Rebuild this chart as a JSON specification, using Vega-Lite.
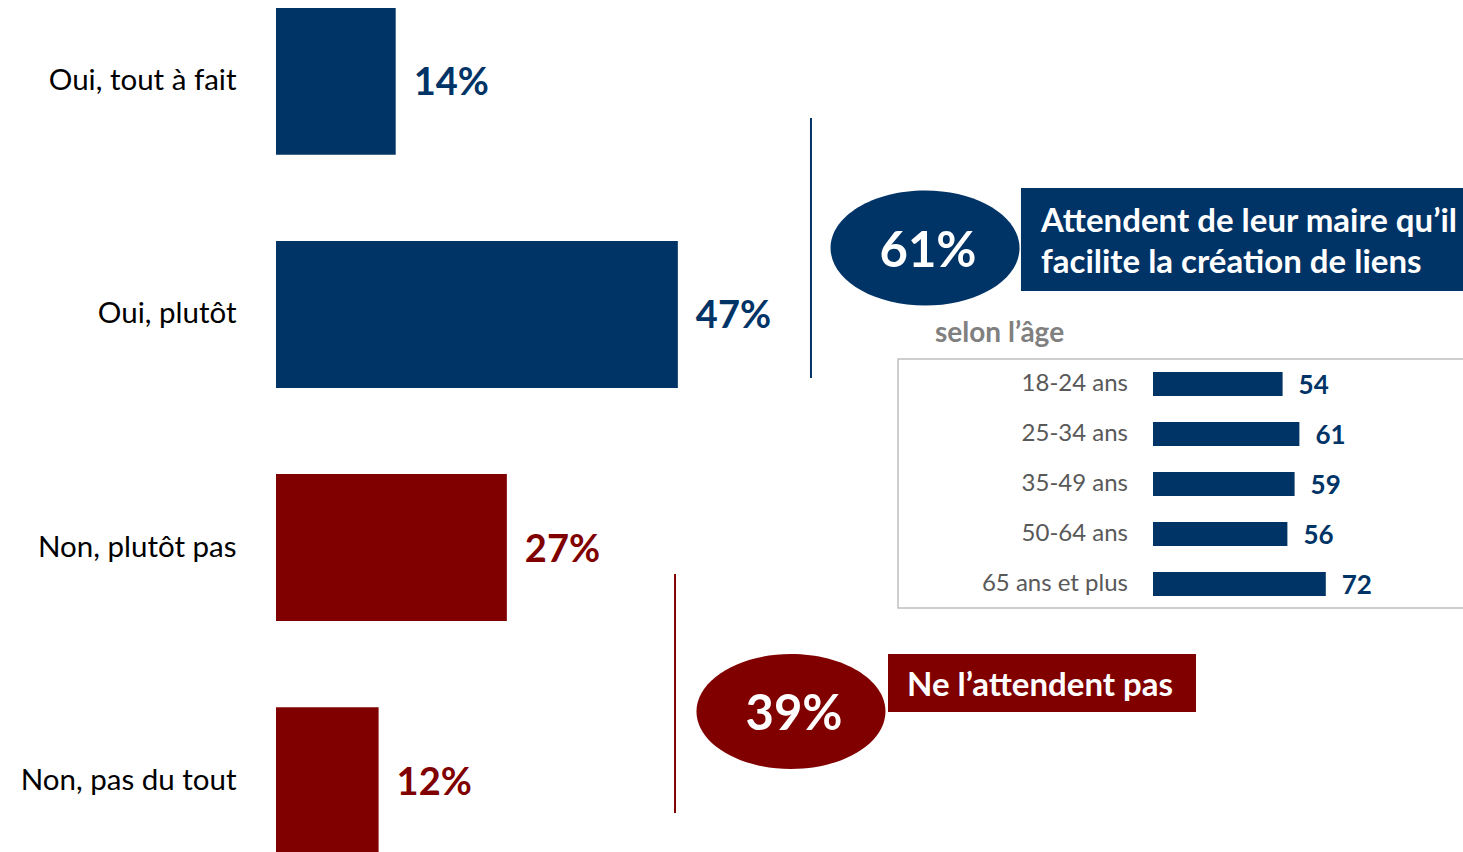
{
  "$schema": "https://vega.github.io/schema/vega-lite/v6.json",
  "width": 1187,
  "height": 852,
  "autosize": {"type": "none"},
  "padding": {"left": 276, "top": 0, "right": 0, "bottom": 0},
  "background": "white",
  "config": {"view": {"stroke": null}, "font": "Lato"},
  "datasets": {
    "reponses": [
      {"reponse": "Oui, tout à fait", "part": 0.14, "groupe": "Oui"},
      {"reponse": "Oui, plutôt", "part": 0.47, "groupe": "Oui"},
      {"reponse": "Non, plutôt pas", "part": 0.27, "groupe": "Non"},
      {"reponse": "Non, pas du tout", "part": 0.12, "groupe": "Non"}
    ],
    "ages": [
      {"age": "18-24 ans", "score": 54},
      {"age": "25-34 ans", "score": 61},
      {"age": "35-49 ans", "score": 59},
      {"age": "50-64 ans", "score": 56},
      {"age": "65 ans et plus", "score": 72}
    ],
    "accolades": [
      {"groupe": "Oui", "x": 0.6257, "y": 13.85, "y2": 44.37},
      {"groupe": "Non", "x": 0.4667, "y": 67.37, "y2": 95.42}
    ],
    "bulles": [
      {"groupe": "Oui", "x": 0.7591, "y": 29.11, "xt": 0.7626, "yt": 29.6, "total": "61%"},
      {"groupe": "Non", "x": 0.6023, "y": 83.51, "xt": 0.6058, "yt": 83.95, "total": "39%"}
    ],
    "bandeaux": [
      {"groupe": "Oui", "x": 0.8713, "x2": 1.408, "y": 22.07, "y2": 34.15, "xt": 0.8947, "yt": 26.06, "texte": "Attendent de leur maire qu’il\nfacilite la création de liens"},
      {"groupe": "Non", "x": 0.7158, "x2": 1.076, "y": 76.76, "y2": 83.57, "xt": 0.738, "yt": 80.5, "texte": "Ne l’attendent pas"}
    ],
    "encart": [
      {"x": 0.7275, "x2": 1.408, "y": 42.14, "y2": 71.36, "xt": 0.7708, "yt": 39.2, "titre": "selon l’âge"}
    ]
  },
  "layer": [
    {
      "data": {"name": "reponses"},
      "encoding": {
        "y": {
          "field": "reponse", "type": "nominal", "sort": null,
          "scale": {"range": [0, 862], "paddingInner": 0.37, "paddingOuter": 0.0343},
          "axis": {"title": null, "domain": false, "ticks": false, "labelPadding": 40, "labelFontSize": 29.5, "labelColor": "#000000", "labelFont": "Lato", "labelLimit": 400}
        },
        "x": {"field": "part", "type": "quantitative", "scale": {"domain": [0, 1.3883], "nice": false}, "axis": null},
        "color": {"field": "groupe", "type": "nominal", "scale": {"domain": ["Oui", "Non"], "range": ["#003366", "#800000"]}, "legend": null}
      },
      "layer": [
        {"mark": {"type": "bar", "opacity": 1}},
        {"mark": {"type": "text", "align": "left", "baseline": "middle", "dx": 18, "dy": 3, "fontSize": 38, "fontWeight": "bold", "font": "Lato"},
         "encoding": {"text": {"field": "part", "type": "quantitative", "format": ".0%"}}}
      ]
    },
    {
      "layer": [
        {
          "data": {"name": "accolades"},
          "mark": {"type": "rule", "strokeWidth": 2},
          "encoding": {
            "x": {"field": "x", "type": "quantitative"},
            "y": {"field": "y", "type": "quantitative"},
            "y2": {"field": "y2"},
            "color": {"field": "groupe", "type": "nominal", "scale": {"domain": ["Oui", "Non"], "range": ["#003366", "#800000"]}, "legend": null}
          }
        },
        {
          "data": {"name": "encart"},
          "mark": {"type": "rect", "fill": null, "fillOpacity": 0, "stroke": "#bfbfbf", "strokeWidth": 1.5},
          "encoding": {
            "x": {"field": "x", "type": "quantitative"},
            "x2": {"field": "x2"},
            "y": {"field": "y", "type": "quantitative"},
            "y2": {"field": "y2"}
          }
        },
        {
          "data": {"name": "encart"},
          "mark": {"type": "text", "align": "left", "baseline": "middle", "fontSize": 28, "fontWeight": "bold", "color": "#808080", "font": "Lato"},
          "encoding": {
            "x": {"field": "xt", "type": "quantitative"},
            "y": {"field": "yt", "type": "quantitative"},
            "text": {"field": "titre"}
          }
        },
        {
          "data": {"name": "bulles"},
          "mark": {"type": "point", "filled": true, "opacity": 1, "strokeWidth": 0, "size": 35721, "shape": "M -1 0 A 1 0.608 0 1 0 1 0 A 1 0.608 0 1 0 -1 0 Z"},
          "encoding": {
            "x": {"field": "x", "type": "quantitative"},
            "y": {"field": "y", "type": "quantitative"},
            "color": {"field": "groupe", "type": "nominal", "scale": {"domain": ["Oui", "Non"], "range": ["#003366", "#800000"]}, "legend": null}
          }
        },
        {
          "data": {"name": "bandeaux"},
          "mark": {"type": "rect", "opacity": 1},
          "encoding": {
            "x": {"field": "x", "type": "quantitative"},
            "x2": {"field": "x2"},
            "y": {"field": "y", "type": "quantitative"},
            "y2": {"field": "y2"},
            "color": {"field": "groupe", "type": "nominal", "scale": {"domain": ["Oui", "Non"], "range": ["#003366", "#800000"]}, "legend": null}
          }
        },
        {
          "data": {"name": "bulles"},
          "mark": {"type": "text", "align": "center", "baseline": "middle", "fontSize": 49, "fontWeight": "bold", "color": "#ffffff", "font": "Lato"},
          "encoding": {
            "x": {"field": "xt", "type": "quantitative"},
            "y": {"field": "yt", "type": "quantitative"},
            "text": {"field": "total"}
          }
        },
        {
          "data": {"name": "bandeaux"},
          "mark": {"type": "text", "align": "left", "baseline": "middle", "fontSize": 33, "fontWeight": "bold", "color": "#ffffff", "font": "Lato", "lineBreak": "\n", "lineHeight": 41},
          "encoding": {
            "x": {"field": "xt", "type": "quantitative"},
            "y": {"field": "yt", "type": "quantitative"},
            "text": {"field": "texte"}
          }
        }
      ],
      "encoding": {
        "x": {"type": "quantitative", "scale": {"domain": [0, 1.3883], "nice": false, "zero": false}, "axis": null},
        "y": {"type": "quantitative", "scale": {"domain": [0, 100], "nice": false, "zero": false, "reverse": true}, "axis": null}
      }
    },
    {
      "data": {"name": "ages"},
      "encoding": {
        "y": {"field": "age", "type": "nominal", "sort": null, "scale": {"range": [359, 609], "paddingInner": 0.52, "paddingOuter": 0.26}, "axis": null}
      },
      "layer": [
        {
          "mark": {"type": "bar", "color": "#003366"},
          "encoding": {"x": {"field": "score", "type": "quantitative", "scale": {"domain": [-365.42, 129.17], "nice": false, "zero": false}, "axis": null}}
        },
        {
          "mark": {"type": "text", "align": "left", "baseline": "middle", "dx": 16, "dy": 2, "fontSize": 26, "fontWeight": "bold", "color": "#003366", "font": "Lato"},
          "encoding": {"x": {"field": "score", "type": "quantitative"}, "text": {"field": "score", "type": "quantitative"}}
        },
        {
          "mark": {"type": "text", "align": "right", "baseline": "middle", "dx": -25, "fontSize": 24, "color": "#595959", "font": "Lato"},
          "encoding": {"x": {"datum": 0, "type": "quantitative"}, "text": {"field": "age"}}
        }
      ]
    }
  ],
  "resolve": {"scale": {"x": "independent", "y": "independent", "color": "independent"}}
}
